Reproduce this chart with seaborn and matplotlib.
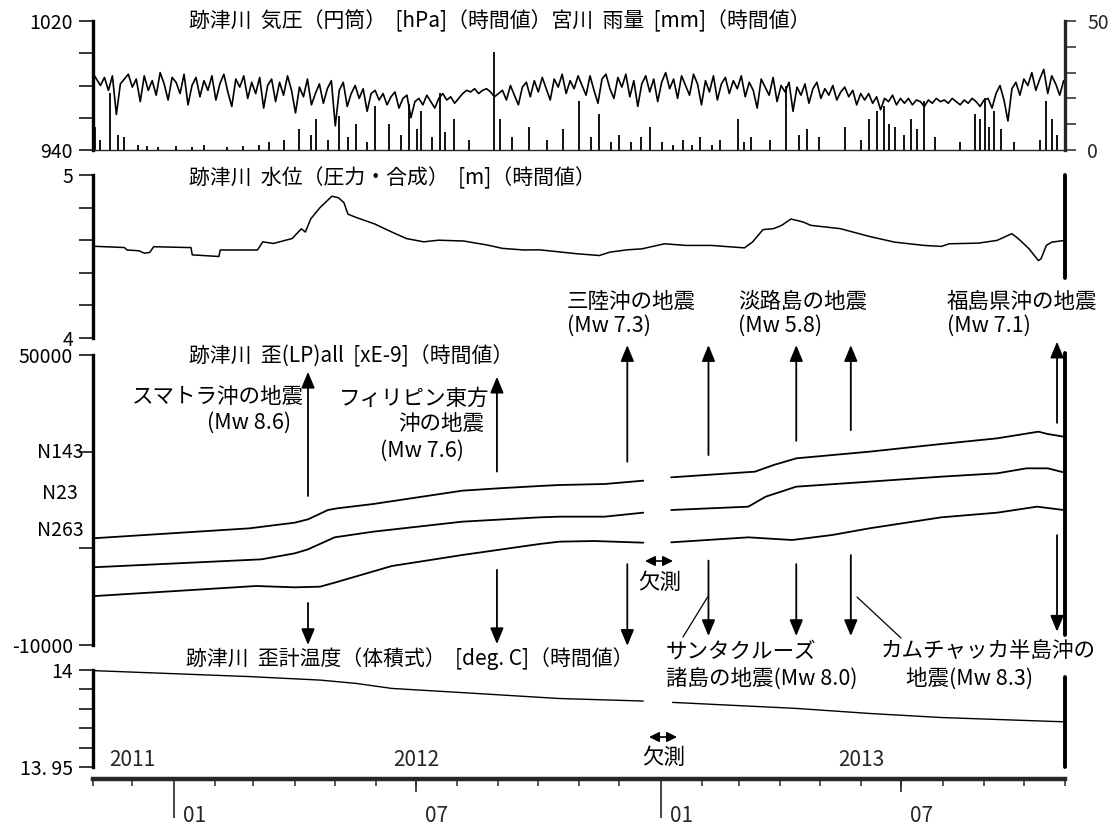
import numpy as np
import pandas as pd
import matplotlib
matplotlib.use("Agg")
import matplotlib.pyplot as plt
import matplotlib.dates as mdates
import matplotlib.transforms as mtransforms
from matplotlib.lines import Line2D
import seaborn as sns

# ---------------- data ----------------
# hourly air pressure at Atotsugawa, read off every ~3 days (hPa), Nov 2011 - Oct 2013
pressure_hpa = [
    988, 984, 980, 985, 977, 986, 962, 981, 984, 987,            # Nov 2011
    979, 984, 970, 986, 977, 983, 974, 988, 981, 971, 985,       # Dec
    982, 975, 987, 968, 980, 985, 973, 983, 977, 986,            # Jan 2012
    971, 981, 987, 976, 967, 984, 979, 986, 972, 982,            # Feb
    975, 985, 966, 980, 984, 970, 982, 974, 986, 977, 963,       # Mar
    979, 973, 984, 968, 975, 981, 969, 978, 983, 955,            # Apr
    977, 982, 967, 975, 980, 972, 978, 964, 975, 977,            # May
    971, 975, 968, 973, 976, 966, 972, 974, 960, 970,            # Jun
    972, 968, 974, 970, 966, 972, 975, 971, 973, 969, 972,       # Jul
    975, 977, 976, 978, 975, 977, 978, 976, 973, 975,            # Aug
    977, 971, 980, 974, 968, 979, 982, 973, 983, 976,            # Sep
    985, 978, 971, 984, 979, 987, 975, 983, 978, 986,            # Oct
    980, 974, 986, 977, 969, 984, 987, 978, 972, 985,            # Nov
    979, 987, 973, 983, 967, 981, 986, 976, 984, 970, 982,       # Dec
    988, 978, 984, 972, 986, 980, 974, 987, 981, 968,            # Jan 2013
    983, 976, 986, 971, 981, 985, 975, 983, 978,                 # Feb
    986, 973, 982, 977, 966, 984, 979, 974, 985, 970, 980,       # Mar
    976, 982, 964, 979, 974, 981, 969, 978, 982, 972,            # Apr
    978, 974, 980, 971, 976, 979, 973, 977, 968, 975,            # May
    971, 975, 969, 973, 965, 972, 970, 974, 968, 972,            # Jun
    969, 972, 968, 971, 970, 967, 971, 969, 972, 970,            # Jul
    971, 969, 972, 970, 968, 971, 969, 972, 970, 967, 971,       # Aug
    972, 966, 975, 980, 971, 958, 978, 982, 974, 984,            # Sep
    980, 988, 977, 984, 990, 975, 986, 981, 974, 983,            # Oct
]

# hourly rainfall at Miyagawa (mm): dates and peak amounts of visible bars
rain_dates = [
    "2011-11-03", "2011-11-07", "2011-11-14", "2011-11-20", "2011-11-25", "2011-12-05",
    "2011-12-12", "2011-12-20", "2012-01-03", "2012-01-15", "2012-01-24", "2012-02-10",
    "2012-02-22", "2012-03-05", "2012-03-13", "2012-03-24", "2012-04-04", "2012-04-13",
    "2012-04-17", "2012-04-26", "2012-05-04", "2012-05-11", "2012-05-17", "2012-05-25",
    "2012-05-31", "2012-06-11", "2012-06-20", "2012-06-26", "2012-07-02", "2012-07-05",
    "2012-07-13", "2012-07-19", "2012-07-23", "2012-07-30", "2012-08-10", "2012-08-29",
    "2012-09-02", "2012-09-11", "2012-09-24", "2012-10-08", "2012-10-20", "2012-11-01",
    "2012-11-10", "2012-11-16", "2012-11-25", "2012-12-01", "2012-12-10", "2012-12-17",
    "2012-12-24", "2013-01-02", "2013-01-10", "2013-01-18", "2013-01-25", "2013-01-31",
    "2013-02-09", "2013-02-15", "2013-02-28", "2013-03-05", "2013-03-10", "2013-03-24",
    "2013-04-05", "2013-04-15", "2013-04-21", "2013-04-30", "2013-05-20", "2013-06-01",
    "2013-06-07", "2013-06-13", "2013-06-18", "2013-06-22", "2013-06-26", "2013-07-03",
    "2013-07-08", "2013-07-13", "2013-07-18", "2013-07-26", "2013-08-14", "2013-08-25",
    "2013-08-29", "2013-09-02", "2013-09-05", "2013-09-09", "2013-09-14", "2013-09-24",
    "2013-10-13", "2013-10-18", "2013-10-22", "2013-10-26",
]
rain_mm = [
    9, 4, 22, 6, 5, 2,
    1.5, 1, 1.5, 1, 2, 1,
    1.5, 2, 3, 4, 8, 6,
    12, 4, 13, 5, 10, 3,
    17, 10, 6, 18, 8, 15,
    5, 22, 7, 12, 4, 38,
    12, 5, 9, 4, 8, 19,
    5, 14, 3, 6, 3, 5,
    9, 3, 2, 4, 2, 5,
    2, 4, 12, 3, 5, 4,
    25, 6, 8, 5, 9, 4,
    12, 15, 17, 10, 9, 6,
    12, 8, 19, 5, 3, 14,
    12, 20, 9, 15, 8, 3,
    4, 19, 12, 6,
]

# water level (m)
water_dates = [
    "2011-11-01", "2011-11-25", "2011-11-27", "2011-12-06", "2011-12-10", "2011-12-14",
    "2011-12-17", "2012-01-12", "2012-01-14", "2012-01-15", "2012-02-04", "2012-02-05",
    "2012-03-04", "2012-03-08", "2012-03-16", "2012-03-30", "2012-04-06", "2012-04-09",
    "2012-04-13", "2012-04-20", "2012-04-29", "2012-05-04", "2012-05-08", "2012-05-11",
    "2012-05-17", "2012-05-31", "2012-06-13", "2012-06-24", "2012-07-07", "2012-07-18",
    "2012-08-06", "2012-08-24", "2012-09-04", "2012-09-20", "2012-10-02", "2012-10-30",
    "2012-11-16", "2012-11-24", "2012-12-07", "2012-12-18", "2013-01-04", "2013-01-20",
    "2013-02-08", "2013-03-05", "2013-03-11", "2013-03-19", "2013-03-27", "2013-04-02",
    "2013-04-09", "2013-04-18", "2013-04-24", "2013-05-16", "2013-06-07", "2013-06-26",
    "2013-07-18", "2013-07-31", "2013-08-06", "2013-08-28", "2013-09-11", "2013-09-22",
    "2013-09-27", "2013-10-05", "2013-10-12", "2013-10-14", "2013-10-18", "2013-10-22",
    "2013-11-01",
]
water_m = [
    4.563, 4.555, 4.54, 4.535, 4.52, 4.525,
    4.56, 4.555, 4.555, 4.51, 4.50, 4.54,
    4.54, 4.59, 4.58, 4.61, 4.67, 4.65,
    4.73, 4.80, 4.87, 4.86, 4.83, 4.76,
    4.74, 4.70, 4.65, 4.61, 4.59, 4.60,
    4.595, 4.57, 4.55, 4.54, 4.541, 4.517,
    4.506, 4.527, 4.541, 4.547, 4.578, 4.568,
    4.568, 4.553, 4.588, 4.665, 4.671, 4.691,
    4.73, 4.712, 4.691, 4.671, 4.623, 4.588,
    4.568, 4.562, 4.578, 4.582, 4.599, 4.64,
    4.609, 4.547, 4.475, 4.486, 4.568, 4.588,
    4.599,
]

# strain (xE-9), three components
n143_dates = ["2011-11-01", "2012-02-27", "2012-04-01", "2012-04-11", "2012-04-26", "2012-05-03",
              "2012-05-30", "2012-08-05", "2012-09-01", "2012-10-02", "2012-10-17", "2012-11-20",
              "2012-12-19", "2013-01-09", "2013-03-13", "2013-03-27", "2013-04-13", "2013-06-07",
              "2013-07-31", "2013-09-11", "2013-10-12", "2013-10-19", "2013-10-31"]
n143_vals = [12069, 14138, 15310, 16000, 17931, 18276,
             19172, 21931, 22414, 22897, 23103, 23310,
             24000, 24690, 25862, 27241, 28621, 30000,
             31586, 32759, 34138, 33655, 33103]
n23_dates = ["2011-11-01", "2012-03-07", "2012-04-01", "2012-04-11", "2012-05-01", "2012-05-30",
             "2012-08-05", "2012-10-02", "2012-10-17", "2012-11-20", "2012-12-19", "2013-01-09",
             "2013-03-08", "2013-03-21", "2013-04-13", "2013-06-07", "2013-07-31", "2013-09-11",
             "2013-10-03", "2013-10-19", "2013-10-31"]
n23_vals = [6069, 7724, 8966, 9793, 12276, 13448,
            15517, 16414, 16552, 16552, 17379, 17931,
            18621, 20690, 22759, 23793, 24828, 25517,
            26552, 26552, 25724]
n263_dates = ["2011-11-01", "2012-03-03", "2012-04-01", "2012-04-20", "2012-05-01", "2012-06-13",
              "2012-08-05", "2012-10-02", "2012-10-17", "2012-11-12", "2012-12-19", "2013-01-09",
              "2013-03-08", "2013-04-10", "2013-05-10", "2013-06-07", "2013-07-31", "2013-09-11",
              "2013-10-11", "2013-10-31"]
n263_vals = [100, 2207, 1931, 2069, 2897, 6345,
             8621, 10897, 11379, 11517, 11172, 11241,
             12276, 11724, 12759, 14138, 16414, 17379,
             18621, 17931]

# strain-meter temperature (deg C)
temp_dates = ["2011-11-01", "2012-02-27", "2012-04-20", "2012-05-17", "2012-06-13", "2012-08-06",
              "2012-10-17", "2012-12-19", "2013-01-10", "2013-04-13", "2013-06-07", "2013-07-31",
              "2013-10-31"]
temp_c = [13.9997, 13.9966, 13.9948, 13.9931, 13.9905, 13.9883,
          13.9853, 13.9840, 13.9833, 13.9802, 13.9776, 13.9755,
          13.9733]

gap_start = "2012-12-19"   # missing data (欠測)

# earthquakes
eq_dates = ["2012-04-11", "2012-08-31", "2012-12-07", "2013-02-06", "2013-04-13", "2013-05-24", "2013-10-26"]

# ---------------- figure ----------------
sns.set_style("white")
plt.rcParams["font.family"] = ["Noto Sans CJK JP", "DejaVu Sans"]
plt.rcParams["axes.unicode_minus"] = False

W, H = 1115, 827
fig = plt.figure(figsize=(W / 100, H / 100), dpi=100)


def box(x0, y0, x1, y1):
    return [x0 / W, 1 - y1 / H, (x1 - x0) / W, (y1 - y0) / H]


XL, XR = 92.5, 1065
T0, T1 = pd.Timestamp("2011-11-01"), pd.Timestamp("2013-11-01")
xlim = (mdates.date2num(T0), mdates.date2num(T1))
TICK_FS = 14
LAB_FS = 15.5
TITLE_FS = 15

ax1 = fig.add_axes(box(XL, 21, XR, 150))
ax2 = fig.add_axes(box(XL, 175, XR, 338))
ax3 = fig.add_axes(box(XL, 355, XR, 645))
ax4 = fig.add_axes(box(XL, 670, XR, 767))


def style_left(ax):
    ax.patch.set_visible(False)
    for s in ["top", "right", "bottom"]:
        ax.spines[s].set_visible(False)
    ax.spines["left"].set_linewidth(2.4)
    ax.spines["left"].set_color("black")
    ax.set_xlim(*xlim)
    ax.set_xticks([])
    ax.tick_params(axis="y", direction="out", length=10, width=1.1, pad=4,
                   labelsize=TICK_FS, colors="black", left=True)
    ax.set_xlabel("")
    ax.set_ylabel("")


# --- panel 1: pressure + rain
p_dates = pd.date_range("2011-11-01", "2013-10-31", periods=len(pressure_hpa))
df_p = pd.DataFrame({"date": p_dates, "hPa": pressure_hpa})
sns.lineplot(data=df_p, x="date", y="hPa", ax=ax1, color="black", lw=1.2, legend=False)
style_left(ax1)
ax1.set_ylim(940, 1020)
ax1.set_yticks([940, 960, 980, 1000, 1020])
ax1.set_yticklabels(["940", "", "", "", "1020"])
ax1.spines["bottom"].set_visible(True)
ax1.spines["bottom"].set_linewidth(1.0)

ax1r = ax1.twinx()
ax1r.patch.set_visible(False)
ax1r.vlines(pd.to_datetime(rain_dates), 0, rain_mm, color="black", lw=1.3)
ax1r.set_ylim(0, 50)
ax1r.set_xlim(*xlim)
for s in ["top", "left", "bottom"]:
    ax1r.spines[s].set_visible(False)
ax1r.spines["right"].set_linewidth(2.4)
ax1r.set_yticks([0, 10, 20, 30, 40, 50])
ax1r.set_yticklabels(["0", "", "", "", "", "50"])
ax1r.tick_params(axis="y", direction="out", length=8, width=1.1, pad=8,
                 labelsize=TICK_FS, right=True)

# --- panel 2: water level
df_w = pd.DataFrame({"date": pd.to_datetime(water_dates), "m": water_m})
sns.lineplot(data=df_w, x="date", y="m", ax=ax2, color="black", lw=1.1, legend=False)
style_left(ax2)
ax2.set_ylim(4, 5)
ax2.set_yticks([4, 4.2, 4.4, 4.6, 4.8, 5])
ax2.set_yticklabels(["4", "", "", "", "", "5"])
ax2.axvline(mdates.date2num(T1), ymin=0.368, ymax=1.0, color="black", lw=2.8, clip_on=False)

# --- panel 3: strain
frames = []
for name, d, v in [("N143", n143_dates, n143_vals), ("N23", n23_dates, n23_vals),
                   ("N263", n263_dates, n263_vals)]:
    f = pd.DataFrame({"date": pd.to_datetime(d), "value": v})
    f["unit"] = name + np.where(f["date"] > pd.Timestamp(gap_start), "_b", "_a")
    frames.append(f)
df_s = pd.concat(frames, ignore_index=True)
sns.lineplot(data=df_s, x="date", y="value", units="unit", estimator=None, ax=ax3,
             color="black", lw=1.3, legend=False)
style_left(ax3)
ax3.set_ylim(-10000, 50000)
ax3.set_yticks([-10000, 10000, 30000, 50000])
ax3.set_yticklabels(["-10000", "", "", "50000"])
ax3.axvline(mdates.date2num(T1), ymin=0.0345, ymax=1.007, color="black", lw=2.8, clip_on=False)

# --- panel 4: temperature
df_t = pd.DataFrame({"date": pd.to_datetime(temp_dates), "c": temp_c})
df_t["unit"] = np.where(df_t["date"] > pd.Timestamp(gap_start), "b", "a")
sns.lineplot(data=df_t, x="date", y="c", units="unit", estimator=None, ax=ax4,
             color="black", lw=1.0, legend=False)
style_left(ax4)
ax4.set_ylim(13.95, 14.0)
ax4.set_yticks([13.95, 13.96, 13.97, 13.98, 13.99, 14.0])
ax4.set_yticklabels(["13. 95", "", "", "", "", "14"])
ax4.axvline(mdates.date2num(T1), ymin=0.0, ymax=0.928, color="black", lw=2.8, clip_on=False)

# --- time axis
ax5 = fig.add_axes(box(XL, 778.5, XR, 779))
ax6 = fig.add_axes(box(XL, 778.5, XR, 779))
for ax in (ax5, ax6):
    ax.patch.set_visible(False)
    for s in ["top", "right", "left", "bottom"]:
        ax.spines[s].set_visible(False)
    ax.set_xlim(*xlim)
    ax.set_yticks([])
ax5.spines["bottom"].set_visible(True)
ax5.spines["bottom"].set_linewidth(3.2)
months = pd.date_range("2011-11-01", "2013-11-01", freq="MS")
jans = [m for m in months if m.month == 1]
juls = [m for m in months if m.month == 7]
ax5.set_xticks(mdates.date2num(months), minor=True)
ax5.set_xticks(mdates.date2num(jans))
ax5.set_xticklabels([])
ax5.tick_params(axis="x", which="minor", direction="out", length=5, width=1.1, bottom=True)
ax5.tick_params(axis="x", which="major", direction="out", length=28, width=1.2, bottom=True)
ax6.set_xticks(mdates.date2num(juls))
ax6.set_xticklabels([])
ax6.tick_params(axis="x", which="major", direction="out", length=9.5, width=1.2, bottom=True)

for m in jans + juls:
    ax5.annotate(m.strftime("%m"), xy=(mdates.date2num(m), 0), xycoords=("data", "axes fraction"),
                 xytext=(9, -37), textcoords="offset pixels", ha="left", va="center",
                 fontsize=15, annotation_clip=False)
for yr, d in [("2011", "2011-12-01"), ("2012", "2012-07-01"), ("2013", "2013-06-01")]:
    ax5.annotate(yr, xy=(mdates.date2num(pd.Timestamp(d)), 0), xycoords=("data", "axes fraction"),
                 xytext=(0, 19), textcoords="offset pixels", ha="center", va="center",
                 fontsize=15, annotation_clip=False)


# --- texts
def ftext(x, y, s, ha="left", fs=LAB_FS):
    fig.text(x / W, 1 - y / H, s, ha=ha, va="center", fontsize=fs, color="black")


ftext(189, 21, "跡津川  気圧（円筒）  [hPa]（時間値）宮川  雨量  [mm]（時間値）", fs=TITLE_FS)
ftext(189, 178, "跡津川  水位（圧力・合成）  [m]（時間値）", fs=TITLE_FS)
ftext(189, 356, "跡津川  歪(LP)all  [xE-9]（時間値）", fs=TITLE_FS)
ftext(186, 659, "跡津川  歪計温度（体積式）  [deg. C]（時間値）", fs=TITLE_FS)

ftext(60, 452, "N143", ha="center", fs=TICK_FS)
ftext(60, 493, "N23", ha="center", fs=TICK_FS)
ftext(60, 530, "N263", ha="center", fs=TICK_FS)

ftext(304, 397, "スマトラ沖の地震", ha="right")
ftext(291, 423, "(Mw 8.6)", ha="right")
ftext(489, 399, "フィリピン東方", ha="right")
ftext(484, 424, "沖の地震", ha="right")
ftext(464, 451, "(Mw 7.6)", ha="right")
ftext(567, 302, "三陸沖の地震")
ftext(567, 326, "(Mw 7.3)")
ftext(738, 302, "淡路島の地震")
ftext(738, 326, "(Mw 5.8)")
ftext(947, 302, "福島県沖の地震")
ftext(947, 326, "(Mw 7.1)")
ftext(666, 652, "サンタクルーズ")
ftext(666, 679, "諸島の地震(Mw 8.0)")
ftext(881, 652, "カムチャッカ半島沖の")
ftext(906, 679, "地震(Mw 8.3)")
ftext(660, 583, "欠測", ha="center")
ftext(664, 758, "欠測", ha="center")

# --- earthquake arrows (x from event date, y in strain-axes fraction)
up_tail = [0.514, 0.598, 0.632, 0.655, 0.704, 0.741, 0.766]
up_tip = [0.942, 0.925, 1.034, 1.034, 1.034, 1.034, 1.046]
dn_tail = [0.145, 0.259, 0.279, 0.291, 0.279, 0.31, 0.379]
dn_tip = [0.0, 0.003, -0.003, 0.031, 0.031, 0.031, 0.046]
trans = mtransforms.blended_transform_factory(ax3.transData, ax3.transAxes)
aprops = dict(arrowstyle="-|>,head_length=0.65,head_width=0.27", color="black", lw=1.3,
              shrinkA=0, shrinkB=0, mutation_scale=15)
for d, a, b, c, e in zip(eq_dates, up_tail, up_tip, dn_tail, dn_tip):
    xd = mdates.date2num(pd.Timestamp(d))
    ax3.annotate("", xy=(xd, b), xytext=(xd, a), xycoords=trans, textcoords=trans,
                 arrowprops=aprops, annotation_clip=False)
    ax3.annotate("", xy=(xd, e), xytext=(xd, c), xycoords=trans, textcoords=trans,
                 arrowprops=aprops, annotation_clip=False)

# leader lines
for (xa, ya), (xb, yb) in [((707.6, 597), (683, 637)), ((857, 597), (901, 638))]:
    fig.add_artist(Line2D([xa / W, xb / W], [1 - ya / H, 1 - yb / H], color="black", lw=0.9,
                          transform=fig.transFigure))

# missing-data double arrows
dprops = dict(arrowstyle="<|-|>,head_length=0.5,head_width=0.25", color="black", lw=1.2,
              shrinkA=0, shrinkB=0, mutation_scale=12)
for (xa, xb, y) in [(645, 673, 561), (649, 677, 737)]:
    fig.add_artist(matplotlib.patches.FancyArrowPatch((xa / W, 1 - y / H), (xb / W, 1 - y / H),
                                                      transform=fig.transFigure, **dprops))

fig.savefig("out.png", dpi=100)
